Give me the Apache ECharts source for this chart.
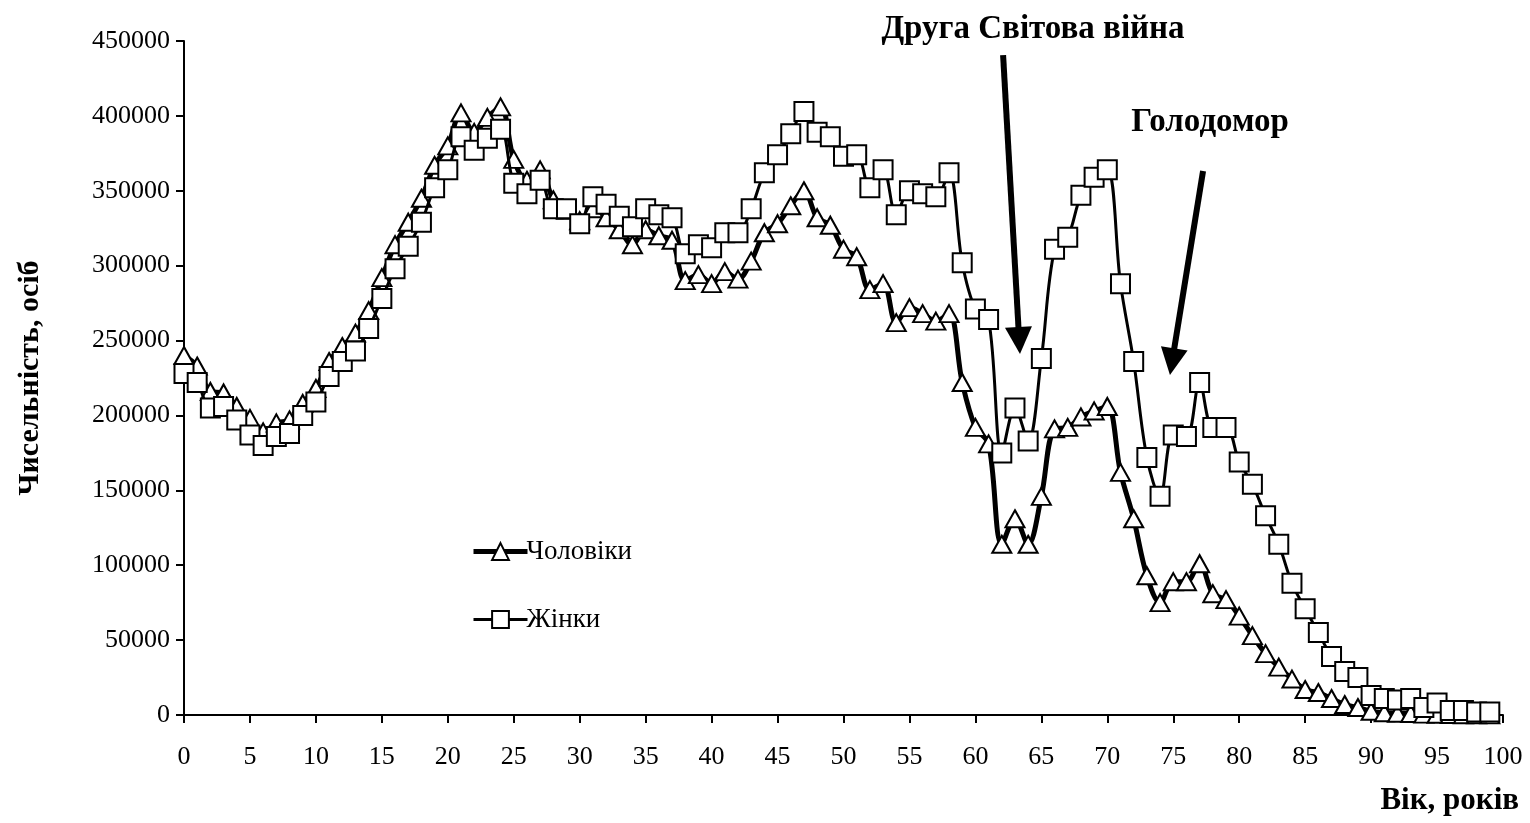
<!DOCTYPE html>
<html>
<head>
<meta charset="utf-8">
<script src="https://cdn.jsdelivr.net/npm/echarts@6/dist/echarts.min.js"></script>
<style>
html,body{margin:0;padding:0;background:#fff;}
#chart{width:1530px;height:823px;}
</style>
</head>
<body>
<div id="chart"></div>
<script>
// Age (years)
var ages = [];
for (var a = 0; a <= 99; a++) ages.push(a);

// Men (Чоловіки), persons
var men = [
240000,233000,216000,215000,206000,198000,189000,195000,197000,208000,
218000,236000,246000,255000,270000,292000,314000,329000,345000,367000,
380000,402000,389000,399000,406000,371000,357000,364000,344000,337000,
330000,338000,332000,324000,314000,324000,320000,317000,290000,294000,
288000,296000,291000,303000,322000,328000,340000,350000,332000,327000,
311000,306000,284000,288000,262000,272000,268000,263000,268000,222000,
192000,181000,114000,131000,114000,146000,191000,192000,199000,203000,
206000,162000,131000,93000,75000,89000,89000,101000,81000,77000,
66000,53000,41000,32000,24000,17000,15000,11000,7000,5000,
2500,1500,1200,1000,600,500,300,200,150,100
];

// Women (Жінки), persons
var women = [
228000,222000,205000,206000,197000,187000,180000,186000,188000,200000,
209000,226000,236000,243000,258000,278000,298000,313000,329000,352000,
364000,386000,377000,385000,391000,355000,348000,357000,338000,338000,
328000,346000,341000,333000,326000,338000,334000,332000,308000,314000,
312000,322000,322000,338000,362000,374000,388000,403000,389000,386000,
373000,374000,352000,364000,334000,350000,348000,346000,362000,302000,
271000,264000,175000,205000,183000,238000,311000,319000,347000,359000,
364000,288000,236000,172000,146000,187000,186000,222000,192000,192000,
169000,154000,133000,114000,88000,71000,55000,39000,29000,25000,
13000,11000,10000,11000,5000,8000,3000,3000,2000,2000
];

var seriesNames = ['Чоловіки', 'Жінки'];
var xTitle = 'Вік, років';
var yTitle = 'Чисельність, осіб';
var annotations = ['Друга Світова війна', 'Голодомор'];
// arrow start and tip in data coordinates [age, persons]
var arrowWar = [[62.1, 440600], [63.38, 241000]];
var arrowFamine = [[77.26, 363200], [74.75, 227000]];

var serif = '"Liberation Serif", "Times New Roman", serif';

var chart = echarts.init(document.getElementById('chart'), null, {renderer: 'canvas'});

function pairs(vals) { return ages.map(function (a, i) { return [a, vals[i]]; }); }

var option = {
  animation: false,
  backgroundColor: '#ffffff',
  grid: {left: 184, right: 27, top: 41, bottom: 108, containLabel: false, outerBoundsMode: 'none'},
  xAxis: {
    type: 'value', min: 0, max: 100, interval: 5,
    axisLine: {show: true, lineStyle: {color: '#000', width: 2}},
    axisTick: {show: true, inside: false, length: 8, lineStyle: {color: '#000', width: 2}},
    axisLabel: {color: '#000', fontFamily: serif, fontSize: 26, margin: 29},
    splitLine: {show: false}
  },
  yAxis: {
    type: 'value', min: 0, max: 450000, interval: 50000,
    name: yTitle, nameLocation: 'middle', nameGap: 139, nameRotate: 90,
    nameTextStyle: {color: '#000', fontFamily: serif, fontSize: 30, fontWeight: 'bold'},
    axisLine: {show: true, lineStyle: {color: '#000', width: 2}},
    axisTick: {show: true, inside: false, length: 8, lineStyle: {color: '#000', width: 2}},
    axisLabel: {color: '#000', fontFamily: serif, fontSize: 26, margin: 14,
      formatter: function (v) { return String(v); }},
    splitLine: {show: false}
  },
  legend: {
    orient: 'vertical', left: 466, top: 533,
    itemWidth: 54, itemHeight: 21, itemGap: 41,
    textStyle: {color: '#000', fontFamily: serif, fontSize: 27, padding: [0, 0, 0, -6]},
    data: [
      {name: seriesNames[0], lineStyle: {width: 5, color: '#000'}},
      {name: seriesNames[1], lineStyle: {width: 3, color: '#000'}}
    ]
  },
  graphic: [
    {type: 'text', x: 1033, y: 29, style: {text: annotations[0], fill: '#000', font: 'bold 33px ' + serif, textAlign: 'center', textVerticalAlign: 'middle'}},
    {type: 'text', x: 1210, y: 122, style: {text: annotations[1], fill: '#000', font: 'bold 33px ' + serif, textAlign: 'center', textVerticalAlign: 'middle'}},
    {type: 'text', x: 1519, y: 801, style: {text: xTitle, fill: '#000', font: 'bold 31px ' + serif, textAlign: 'right', textVerticalAlign: 'middle'}}
  ],
  series: [
    {
      name: seriesNames[0], type: 'line', data: pairs(men), smooth: 0.35,
      symbol: 'triangle', symbolSize: [19, 17],
      lineStyle: {color: '#000', width: 5},
      itemStyle: {color: '#fff', borderColor: '#000', borderWidth: 2},
      z: 2
    },
    {
      name: seriesNames[1], type: 'line', data: pairs(women), smooth: 0.35,
      symbol: 'rect', symbolSize: 19,
      lineStyle: {color: '#000', width: 3},
      itemStyle: {color: '#fff', borderColor: '#000', borderWidth: 2},
      z: 3
    }
  ]
};
chart.setOption(option);

// Arrows placed through the chart's own scales
function arrowGraphics(pair, id) {
  var p0 = chart.convertToPixel({gridIndex: 0}, pair[0]);
  var tip = chart.convertToPixel({gridIndex: 0}, pair[1]);
  var dx = tip[0] - p0[0], dy = tip[1] - p0[1];
  var len = Math.sqrt(dx * dx + dy * dy);
  var ux = dx / len, uy = dy / len;
  var headLen = 27, headHalf = 13.5;
  var bx = tip[0] - ux * headLen, by = tip[1] - uy * headLen;
  var px = -uy, py = ux;
  return [
    {type: 'line', id: id + 'L', z: 10, shape: {x1: p0[0], y1: p0[1], x2: bx + ux * 2, y2: by + uy * 2},
      style: {stroke: '#000', lineWidth: 6}},
    {type: 'polygon', id: id + 'H', z: 10, shape: {points: [[tip[0], tip[1]], [bx + px * headHalf, by + py * headHalf], [bx - px * headHalf, by - py * headHalf]]},
      style: {fill: '#000'}}
  ];
}
var g = option.graphic.concat(arrowGraphics(arrowWar, 'war'), arrowGraphics(arrowFamine, 'famine'));
chart.setOption({graphic: g});
</script>
</body>
</html>
